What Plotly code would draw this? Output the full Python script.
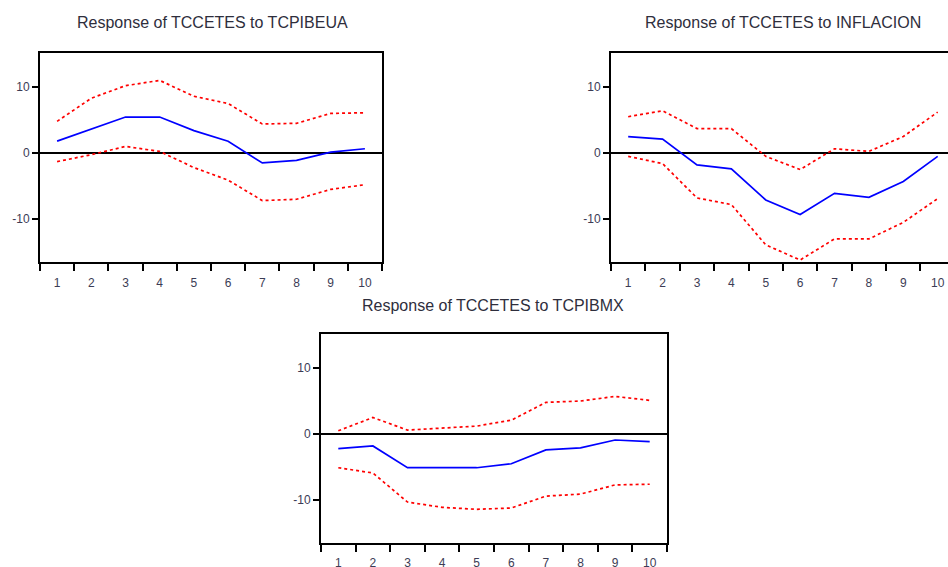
import plotly.graph_objects as go

periods = [1, 2, 3, 4, 5, 6, 7, 8, 9, 10]

titles = [
    "Response of TCCETES to TCPIBEUA",
    "Response of TCCETES to INFLACION",
    "Response of TCCETES to TCPIBMX",
]

# Panel 1: TCPIBEUA
resp_eua = [1.8, 3.6, 5.45, 5.45, 3.4, 1.8, -1.5, -1.1, 0.15, 0.65]
upper_eua = [4.8, 8.3, 10.2, 11.0, 8.6, 7.5, 4.4, 4.5, 6.0, 6.1]
lower_eua = [-1.3, -0.25, 1.0, 0.25, -2.2, -4.1, -7.2, -7.0, -5.5, -4.8]

# Panel 2: INFLACION
resp_inf = [2.5, 2.1, -1.8, -2.4, -7.1, -9.3, -6.1, -6.7, -4.3, -0.5]
upper_inf = [5.5, 6.4, 3.7, 3.7, -0.5, -2.5, 0.65, 0.25, 2.5, 6.2]
lower_inf = [-0.5, -1.6, -6.8, -7.8, -13.9, -16.2, -13.0, -13.0, -10.5, -6.9]

# Panel 3: TCPIBMX
resp_mx = [-2.2, -1.8, -5.1, -5.1, -5.1, -4.5, -2.4, -2.1, -0.9, -1.15]
upper_mx = [0.5, 2.5, 0.6, 0.85, 1.2, 2.1, 4.8, 5.0, 5.7, 5.1]
lower_mx = [-5.1, -5.9, -10.3, -11.1, -11.4, -11.2, -9.4, -9.1, -7.7, -7.6]

y_ticks = [-10, 0, 10]
y_tick_text = ["-10", "0", "10"]

W, H = 948, 567
panels = [
    dict(resp=resp_eua, up=upper_eua, lo=lower_eua, px=(40, 382), py=(53, 262), xr=[0.5, 10.5],
         right=True, ty=22, standoff=9),
    dict(resp=resp_inf, up=upper_inf, lo=lower_inf, px=(611, 948), py=(53, 262), xr=[0.5, 10.3],
         right=False, ty=22, standoff=9),
    dict(resp=resp_mx, up=upper_mx, lo=lower_mx, px=(321, 667), py=(334, 543), xr=[0.5, 10.5],
         right=True, ty=305, standoff=8),
]

fig = go.Figure()
font_tick = dict(family="Liberation Sans, Arial, sans-serif", size=12, color="#3c3c55")

for i, p in enumerate(panels):
    n = "" if i == 0 else str(i + 1)
    xa, ya = "x" + n, "y" + n
    for vals, color, dash in [(p["up"], "#ff0000", "dot"), (p["lo"], "#ff0000", "dot"), (p["resp"], "#0000ff", "solid")]:
        fig.add_trace(go.Scatter(x=periods, y=vals, mode="lines", xaxis=xa, yaxis=ya,
                                 line=dict(color=color, width=1.7, dash=dash), showlegend=False))
    xdom = [p["px"][0] / W, min(p["px"][1] / W, 1.0)]
    ydom = [1 - p["py"][1] / H, 1 - p["py"][0] / H]
    fig.layout["xaxis" + n] = dict(
        domain=xdom, range=p["xr"], anchor=ya,
        tickvals=periods, ticktext=[str(v) for v in periods], ticks="",
        ticklabelstandoff=p["standoff"],
        minor=dict(tick0=0.5, dtick=1, ticks="outside", ticklen=7, tickwidth=2, tickcolor="black"),
        showline=True, linecolor="black", linewidth=2, mirror=True,
        showgrid=False, zeroline=False, tickfont=font_tick, fixedrange=True, automargin=False,
    )
    fig.layout["yaxis" + n] = dict(
        domain=ydom, range=[-16.5, 15.15], anchor=xa,
        tickvals=y_ticks, ticktext=y_tick_text, ticks="outside", ticklen=6, tickwidth=2, tickcolor="black",
        showline=True, linecolor="black", linewidth=2, mirror=p["right"],
        showgrid=False, zeroline=True, zerolinecolor="black", zerolinewidth=1.5,
        tickfont=font_tick, fixedrange=True, automargin=False,
    )
    fig.add_annotation(text=titles[i], xref="paper", yref="paper",
                       x=(p["px"][0] + (p["px"][0] + 344)) / 2 / W,
                       y=1 - p["ty"] / H,
                       xanchor="center", yanchor="middle", showarrow=False,
                       font=dict(family="Liberation Sans, Arial, sans-serif", size=16, color="#2e2e3c"))

fig.update_layout(width=W, height=H, margin=dict(l=0, r=0, t=0, b=0, autoexpand=False),
                  paper_bgcolor="white", plot_bgcolor="white")

fig.write_html("out.html", config={"displayModeBar": False},
               post_script="document.body.style.margin='0';document.body.style.overflow='hidden';")
